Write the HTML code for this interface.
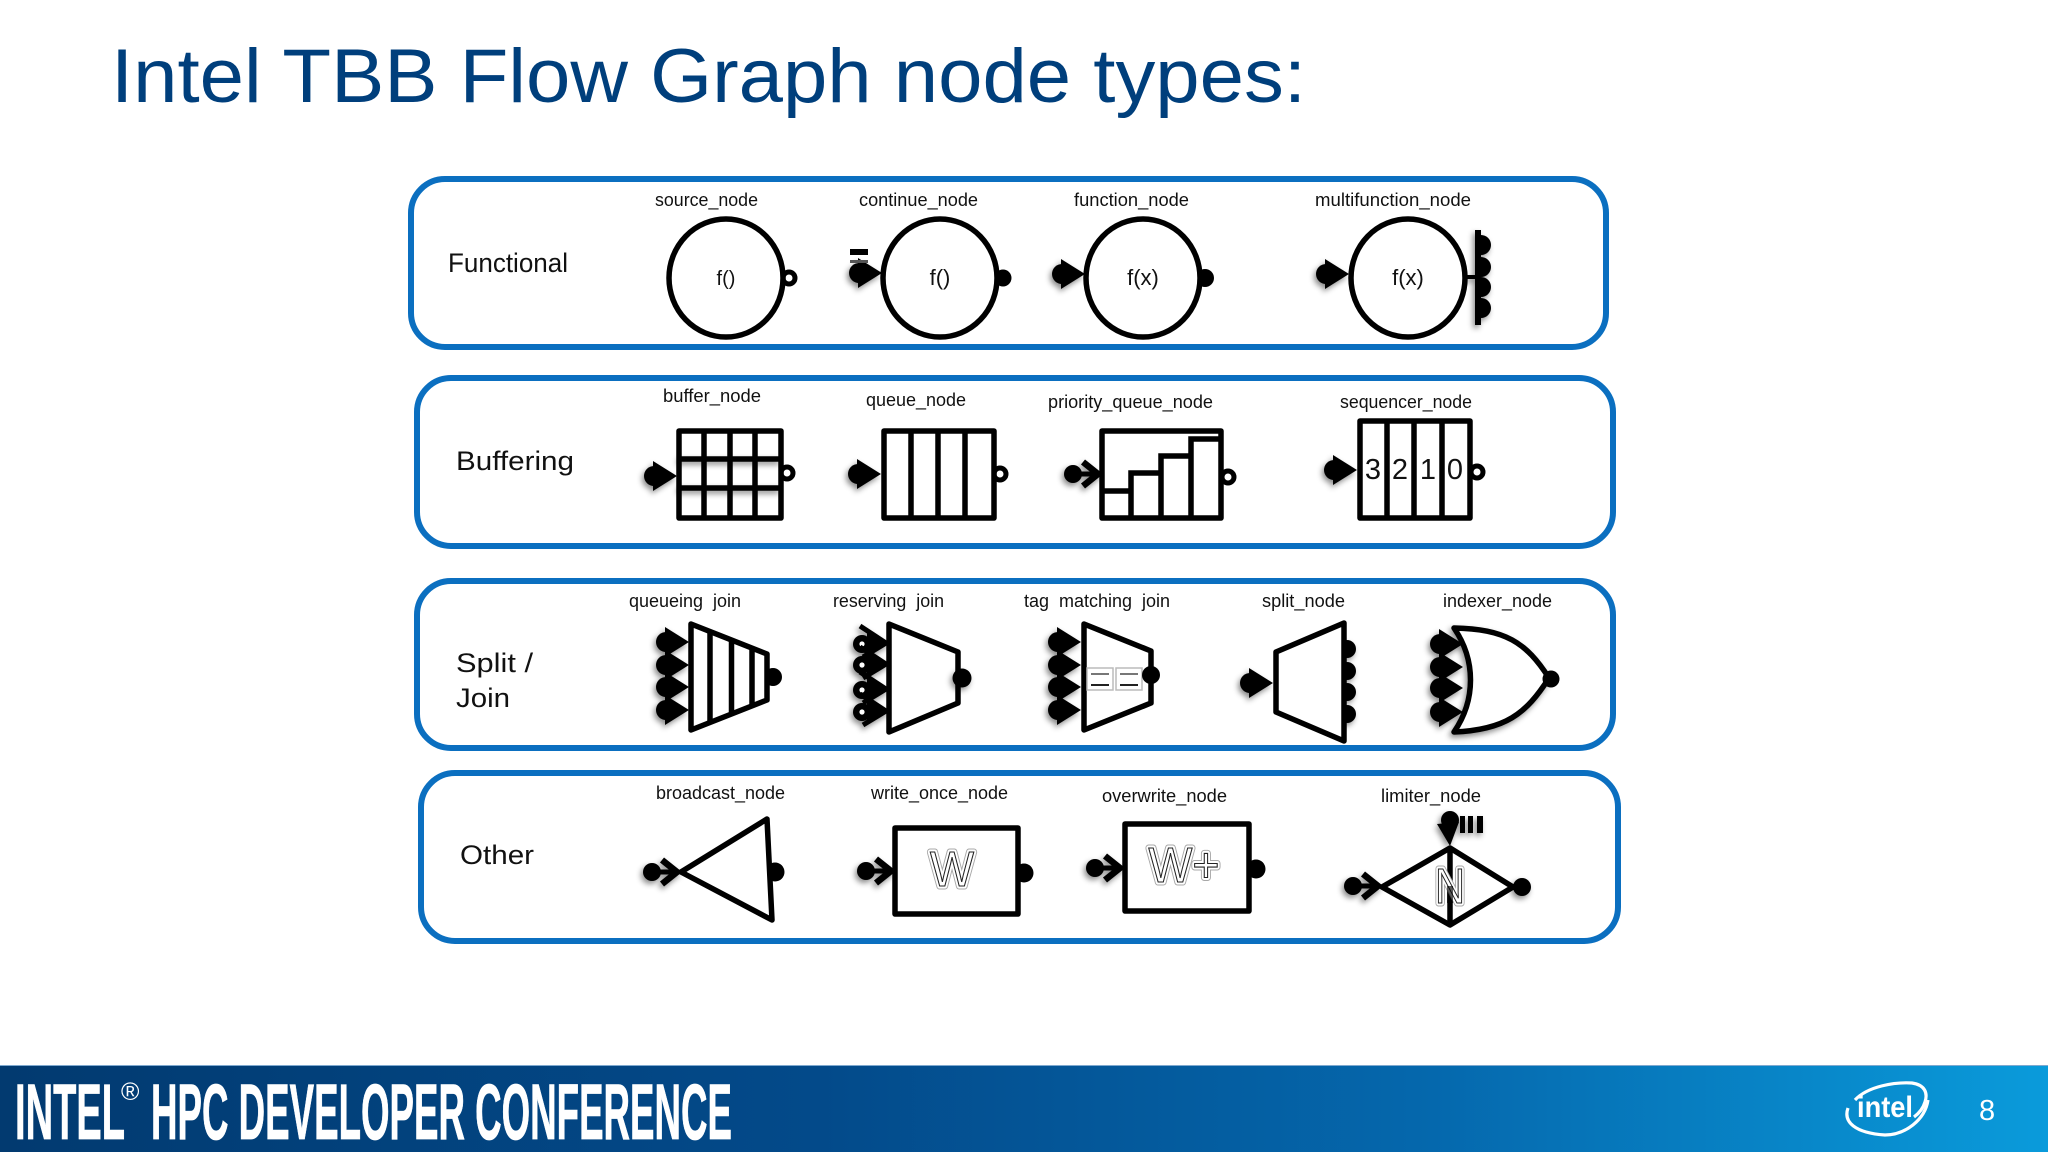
<!DOCTYPE html>
<html><head><meta charset="utf-8"><title>Intel TBB Flow Graph node types</title>
<style>
html,body{margin:0;padding:0;background:#fff;width:2048px;height:1152px;overflow:hidden}
svg{display:block}
text{font-family:"Liberation Sans",sans-serif}
.l{font-size:18px;fill:#111}
.g{font-size:27px;fill:#111}
.s{fill:#fff;stroke:#000;stroke-width:5.5;stroke-linejoin:round}
.n{fill:none;stroke:#000;stroke-width:5.5;stroke-linecap:butt}
.p{fill:#000}
.sh{filter:drop-shadow(-2px 3px 3px rgba(0,0,0,.45))}
.o1{font-size:49px;fill:#fff;stroke:#a8a8a8;stroke-width:7;stroke-linejoin:round;text-anchor:middle}
.o2{font-size:49px;fill:#fff;stroke:#fff;stroke-width:5;stroke-linejoin:round;text-anchor:middle}
.o3{font-size:49px;fill:#fff;stroke:#222;stroke-width:1.1;text-anchor:middle}
.c{text-anchor:middle;fill:#111}
</style></head><body>
<svg width="2048" height="1152" viewBox="0 0 2048 1152" xmlns="http://www.w3.org/2000/svg">
<defs>
<linearGradient id="f" x1="0" x2="1" y1="0" y2="0"><stop offset="0" stop-color="#023a70"/><stop offset=".4" stop-color="#034a8a"/><stop offset=".7" stop-color="#0568ad"/><stop offset="1" stop-color="#0a9bdb"/></linearGradient>
<g id="in"><circle cx="-23" cy="0" r="10"/><polygon points="0,0 -24,-15 -24,15"/></g>
<g id="ch"><circle cx="-26" cy="0" r="9"/><path d="M-26 0H-2" stroke="#000" stroke-width="5"/><path d="M-16 -12L-1 0L-16 12" fill="none" stroke="#000" stroke-width="6.5"/></g>
<g id="rc"><polygon points="0,0 -20,-13 -20,13"/><path d="M-27 -17L-1 0L-24 14" fill="none" stroke="#000" stroke-width="5"/><circle cx="-25" cy="1" r="9"/><circle cx="-25" cy="1" r="2.6" fill="#fff"/></g>
<g id="ro"><circle r="6" fill="#fff" stroke="#000" stroke-width="5"/></g>
</defs>
<rect width="2048" height="1152" fill="#fff"/>

<text x="111" y="102" font-size="76" fill="#003f7c" textLength="1195" lengthAdjust="spacingAndGlyphs">Intel TBB Flow Graph node types:</text>

<g fill="none" stroke="#0b6fc0" stroke-width="6">
<rect x="411" y="179" width="1195" height="168" rx="34"/>
<rect x="417" y="378" width="1196" height="168" rx="34"/>
<rect x="417" y="581" width="1196" height="167" rx="34"/>
<rect x="421" y="773" width="1197" height="168" rx="34"/>
</g>

<g class="g">
<text x="448" y="272" textLength="120" lengthAdjust="spacingAndGlyphs">Functional</text>
<text x="456" y="470" textLength="118" lengthAdjust="spacingAndGlyphs">Buffering</text>
<text x="456" y="672" textLength="77" lengthAdjust="spacingAndGlyphs">Split /</text>
<text x="456" y="707" textLength="54" lengthAdjust="spacingAndGlyphs">Join</text>
<text x="460" y="864" textLength="74" lengthAdjust="spacingAndGlyphs">Other</text>
</g>

<g class="l">
<text x="655" y="206" textLength="103" lengthAdjust="spacingAndGlyphs">source_node</text>
<text x="859" y="206" textLength="119" lengthAdjust="spacingAndGlyphs">continue_node</text>
<text x="1074" y="206" textLength="115" lengthAdjust="spacingAndGlyphs">function_node</text>
<text x="1315" y="206" textLength="156" lengthAdjust="spacingAndGlyphs">multifunction_node</text>
<text x="663" y="402" textLength="98" lengthAdjust="spacingAndGlyphs">buffer_node</text>
<text x="866" y="406" textLength="100" lengthAdjust="spacingAndGlyphs">queue_node</text>
<text x="1048" y="408" textLength="165" lengthAdjust="spacingAndGlyphs">priority_queue_node</text>
<text x="1340" y="408" textLength="132" lengthAdjust="spacingAndGlyphs">sequencer_node</text>
<text x="629" y="607" textLength="112" lengthAdjust="spacingAndGlyphs">queueing&#160; join</text>
<text x="833" y="607" textLength="111" lengthAdjust="spacingAndGlyphs">reserving&#160; join</text>
<text x="1024" y="607" textLength="146" lengthAdjust="spacingAndGlyphs">tag&#160; matching&#160; join</text>
<text x="1262" y="607" textLength="83" lengthAdjust="spacingAndGlyphs">split_node</text>
<text x="1443" y="607" textLength="109" lengthAdjust="spacingAndGlyphs">indexer_node</text>
<text x="656" y="799" textLength="129" lengthAdjust="spacingAndGlyphs">broadcast_node</text>
<text x="871" y="799" textLength="137" lengthAdjust="spacingAndGlyphs">write_once_node</text>
<text x="1102" y="802" textLength="125" lengthAdjust="spacingAndGlyphs">overwrite_node</text>
<text x="1381" y="802" textLength="100" lengthAdjust="spacingAndGlyphs">limiter_node</text>
</g>

<!-- Functional -->
<use href="#ro" x="789" y="278"/>
<ellipse class="s" cx="726" cy="278" rx="57" ry="59"/>
<text class="c" x="726" y="285" font-size="20">f()</text>

<circle class="p" cx="1003" cy="278" r="8.5"/>
<ellipse class="s" cx="940" cy="278" rx="57" ry="59"/>
<text class="c" x="940" y="285" font-size="22">f()</text>
<use class="sh" href="#in" x="882" y="273"/>
<rect x="850" y="249" width="18" height="6" fill="#000"/><rect x="850" y="260" width="18" height="3" fill="#555"/>

<circle class="p" cx="1205" cy="278" r="9"/>
<ellipse class="s" cx="1143" cy="278" rx="57" ry="59"/>
<text class="c" x="1143" y="285" font-size="22">f(x)</text>
<use class="sh" href="#in" x="1085" y="274"/>

<g class="sh">
<path class="p" d="M1481 235a10 10 0 0 1 0 20ZM1481 257a10 10 0 0 1 0 20ZM1481 277a10 10 0 0 1 0 20ZM1481 298a10 10 0 0 1 0 20Z"/>
<path d="M1478 230V325" stroke="#000" stroke-width="6"/>
<path d="M1466 277H1478" stroke="#000" stroke-width="4"/>
</g>
<ellipse class="s" cx="1408" cy="278" rx="57" ry="59"/>
<text class="c" x="1408" y="285" font-size="22">f(x)</text>
<use class="sh" href="#in" x="1349" y="274"/>

<!-- Buffering -->
<use href="#ro" x="787" y="473"/>
<rect class="s" x="679" y="431" width="102" height="87"/>
<path class="n" d="M704 431V518M730 431V518M755 431V518"/>
<path class="n sh" d="M679 459H781M679 488H781"/>
<use class="sh" href="#in" x="677" y="476"/>

<use href="#ro" x="1000" y="474"/>
<rect class="s" x="884" y="431" width="110" height="87"/>
<path class="n" d="M911 431V518M938 431V518M965 431V518"/>
<use class="sh" href="#in" x="881" y="474"/>

<use href="#ro" x="1228" y="477"/>
<rect class="s" x="1102" y="431" width="119" height="87"/>
<path class="n" d="M1102 491H1131V518M1131 518V473H1161V518M1161 518V456H1191V518M1191 518V439H1221"/>
<use class="sh" href="#ch" x="1099" y="474"/>

<use href="#ro" x="1477" y="472"/>
<rect class="s" x="1360" y="421" width="110" height="97"/>
<path class="n" d="M1387 421V518M1414 421V518M1442 421V518"/>
<g font-size="29" fill="#111" text-anchor="middle">
<text x="1373" y="479">3</text><text x="1400" y="479">2</text><text x="1428" y="479">1</text><text x="1455" y="479">0</text>
</g>
<use class="sh" href="#in" x="1357" y="470"/>

<!-- Split / Join -->
<circle class="p" cx="773" cy="677" r="9"/>
<polygon class="s" points="691,624 767,654 767,700 691,730"/>
<path class="n" d="M710 631V723M731.5 639V714M752 647V706"/>
<g class="sh"><use href="#in" x="689" y="642"/><use href="#in" x="689" y="665"/><use href="#in" x="689" y="687"/><use href="#in" x="689" y="710"/></g>

<polygon class="s" points="889,624 958,652 958,703 889,732"/>
<circle class="p sh" cx="962" cy="678" r="9.5"/>
<g class="sh"><use href="#rc" x="887" y="643"/><use href="#rc" x="887" y="664"/><use href="#rc" x="887" y="689"/><use href="#rc" x="887" y="711"/></g>

<polygon class="s" points="1084,624 1151,651 1151,703 1084,730"/>
<g>
<rect x="1087" y="668" width="26" height="22" fill="#fff" stroke="#bbb" stroke-width="1.5"/>
<rect x="1116" y="668" width="26" height="22" fill="#fff" stroke="#bbb" stroke-width="1.5"/>
<path d="M1091 674H1109M1120 674H1138" stroke="#777" stroke-width="2"/>
<path d="M1091 685H1109M1120 685H1138" stroke="#222" stroke-width="2"/>
</g>
<circle class="p" cx="1151" cy="675" r="9"/>
<g class="sh"><use href="#in" x="1081" y="642"/><use href="#in" x="1081" y="665"/><use href="#in" x="1081" y="687"/><use href="#in" x="1081" y="710"/></g>

<g class="sh"><circle class="p" cx="1347" cy="649" r="9"/><circle class="p" cx="1347" cy="671" r="9"/><circle class="p" cx="1347" cy="692" r="9"/><circle class="p" cx="1347" cy="714" r="9"/></g>
<polygon class="s" points="1344,623 1276,652 1276,712 1344,741"/>
<use class="sh" href="#in" x="1273" y="683"/>

<path class="s sh" d="M1454 628C1505 629 1526 642 1549 678C1526 714 1505 730 1454 732C1476 700 1476 660 1454 628Z" stroke-width="6"/>
<circle class="p" cx="1551" cy="679" r="8.5"/>
<g class="sh"><use href="#in" x="1463" y="644"/><use href="#in" x="1463" y="667"/><use href="#in" x="1463" y="688"/><use href="#in" x="1463" y="712"/></g>

<!-- Other -->
<circle class="p" cx="775" cy="872" r="9.5"/>
<polygon class="s" points="681,872 767,819 772,920"/>
<use class="sh" href="#ch" x="678" y="872"/>

<circle class="p" cx="1024" cy="873" r="9.5"/>
<rect class="s" x="895" y="828" width="123" height="86"/>
<text class="o1" x="952" y="886" textLength="44" lengthAdjust="spacingAndGlyphs">W</text>
<text class="o2" x="952" y="886" textLength="44" lengthAdjust="spacingAndGlyphs">W</text>
<text class="o3" x="952" y="886" textLength="44" lengthAdjust="spacingAndGlyphs">W</text>
<use class="sh" href="#ch" x="892" y="871"/>

<circle class="p" cx="1256" cy="869" r="9.5"/>
<rect class="s" x="1125" y="824" width="124" height="87"/>
<text class="o1" x="1184" y="882" textLength="71" lengthAdjust="spacingAndGlyphs">W+</text>
<text class="o2" x="1184" y="882" textLength="71" lengthAdjust="spacingAndGlyphs">W+</text>
<text class="o3" x="1184" y="882" textLength="71" lengthAdjust="spacingAndGlyphs">W+</text>
<use class="sh" href="#ch" x="1121" y="868"/>

<polygon class="s" points="1382,887 1450,848 1513,887 1450,925"/>
<path class="n" d="M1450 848V925"/>
<text class="o1" x="1450" y="903" textLength="30" lengthAdjust="spacingAndGlyphs">N</text>
<text class="o2" x="1450" y="903" textLength="30" lengthAdjust="spacingAndGlyphs">N</text>
<text class="o3" x="1450" y="903" textLength="30" lengthAdjust="spacingAndGlyphs">N</text>
<rect x="1447" y="886" width="6" height="17" fill="#000" opacity=".65"/>
<circle class="p sh" cx="1522" cy="887" r="9"/>
<use class="sh" href="#ch" x="1379" y="886"/>
<g class="sh">
<circle class="p" cx="1450" cy="820" r="9"/>
<polygon class="p" points="1450,846 1437,824 1459,822"/>
<rect class="p" x="1460" y="816" width="5" height="17"/><rect class="p" x="1468" y="816" width="5" height="17"/><rect class="p" x="1477" y="816" width="6" height="17"/>
</g>

<!-- Footer -->
<rect x="0" y="1065" width="2048" height="87" fill="url(#f)"/>
<rect x="0" y="1065" width="2048" height="1" fill="#7fa9cf"/>
<g fill="#fff" stroke="#fff" stroke-width=".8" font-weight="bold">
<text x="15" y="1139" font-size="79" textLength="110" lengthAdjust="spacingAndGlyphs">INTEL</text>
<text x="151" y="1139" font-size="79" textLength="581" lengthAdjust="spacingAndGlyphs">HPC DEVELOPER CONFERENCE</text>
</g>
<text x="121" y="1100" font-size="25" fill="#fff">®</text>
<g fill="none" stroke="#fff" stroke-width="3.2">
<path d="M1855 1100C1868 1086 1895 1082 1912 1083C1925 1085 1928 1093 1925 1102C1923 1109 1918 1114 1914 1117"/>
<path d="M1848 1108C1843 1122 1855 1133 1885 1135C1905 1135 1925 1120 1928 1100"/>
</g>
<text x="1857" y="1117" font-size="30" font-weight="bold" fill="#fff" textLength="56" lengthAdjust="spacingAndGlyphs">intel</text>
<text x="1979" y="1120" font-size="29" fill="#fff">8</text>
</svg>
</body></html>
